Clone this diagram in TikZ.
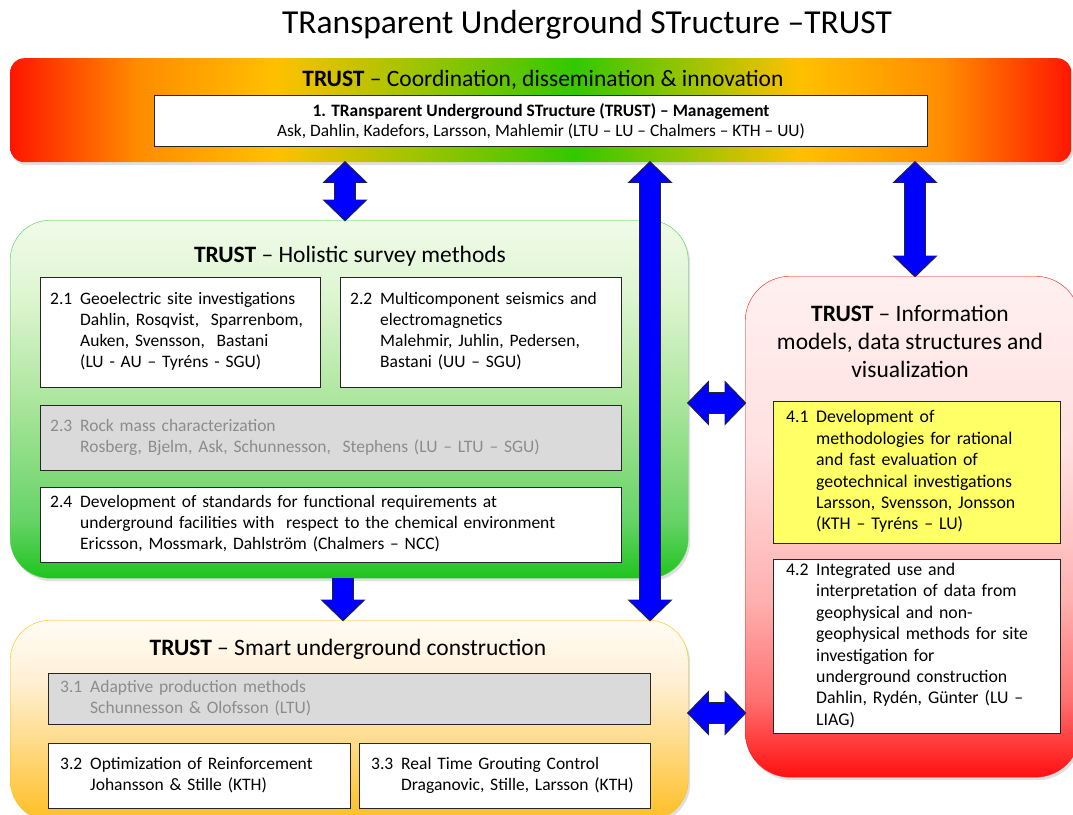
\documentclass[tikz,border=0pt]{standalone}
\usepackage{fontspec}
\setmainfont{Carlito}
\usetikzlibrary{arrows.meta,shadows}

\definecolor{barred}{HTML}{FF1600}
\definecolor{barorange}{HTML}{FF8C00}
\definecolor{baryellow}{HTML}{FFC000}
\definecolor{bargreen}{HTML}{33C800}
\definecolor{sgreen0}{HTML}{F0FBEA}
\definecolor{sgreen1}{HTML}{DDF5D0}
\definecolor{sgreen2}{HTML}{ADE69E}
\definecolor{sgreen3}{HTML}{66D366}
\definecolor{sgreen4}{HTML}{1EC41E}
\definecolor{sgreenline}{HTML}{4CD04C}
\definecolor{sorange0}{HTML}{FFFCF5}
\definecolor{sorange1}{HTML}{FFF0D5}
\definecolor{sorange2}{HTML}{FFDC8C}
\definecolor{sorange3}{HTML}{FFC230}
\definecolor{sred0}{HTML}{FFF0F0}
\definecolor{sred1}{HTML}{FFE0E0}
\definecolor{sred2}{HTML}{FFB0B0}
\definecolor{sred3}{HTML}{FF7070}
\definecolor{sred4}{HTML}{FF1010}
\definecolor{wpgrey}{HTML}{DADADA}
\definecolor{wpgreytext}{HTML}{8C8C8C}
\definecolor{wpyellow}{HTML}{FFFF66}

\pgfdeclarehorizontalshading{coordshade}{100bp}{color(0bp)=(barred); color(25bp)=(barred);
  color(31bp)=(barorange); color(37.5bp)=(baryellow); color(51.6bp)=(bargreen);
  color(62.2bp)=(baryellow); color(69bp)=(barorange); color(75bp)=(barred); color(100bp)=(barred)}
\pgfdeclareverticalshading{surveyshade}{100bp}{color(0bp)=(sgreen4); color(25bp)=(sgreen4);
  color(33bp)=(sgreen3); color(50bp)=(sgreen2); color(64bp)=(sgreen1); color(75bp)=(sgreen0); color(100bp)=(sgreen0)}
\pgfdeclareverticalshading{smartshade}{100bp}{color(0bp)=(sorange3); color(27.5bp)=(sorange3);
  color(45bp)=(sorange2); color(60bp)=(sorange1); color(75bp)=(sorange0); color(100bp)=(sorange0)}
\pgfdeclareverticalshading{infoshade}{100bp}{color(0bp)=(sred4); color(25bp)=(sred4);
  color(32.7bp)=(sred3); color(42.7bp)=(sred2); color(57.6bp)=(sred1); color(75bp)=(sred0); color(100bp)=(sred0)}

% number in front of a work package, the lines of the text stand beside it
\newcommand{\wptext}[2]{\makebox[30pt][l]{#1}\begin{tabular}[t]{@{}l@{}}#2\end{tabular}}

\tikzset{
  panel/.style={anchor=north west, inner sep=0pt, rounded corners=40pt, shade,
    drop shadow={shadow xshift=2pt, shadow yshift=-3pt, opacity=0.25}},
  paneltitle/.style={align=center, font=\fontsize{23.5}{28}\selectfont},
  wpbox/.style={draw=black!85, fill=white, anchor=north west, align=left,
    inner xsep=10pt, inner ysep=0pt, font=\fontsize{17.5}{21}\selectfont},
  wpgreybox/.style={wpbox, fill=wpgrey, text=wpgreytext},
  dblarrow/.style={draw=blue, line width=20pt,
    {Triangle[width=40pt,length=20pt]}-{Triangle[width=40pt,length=20pt]},
    preaction={draw=black!85, line width=22pt,
      {Triangle[width=44pt,length=22pt]}-{Triangle[width=44pt,length=22pt]},
      shorten <=-1.5pt, shorten >=-1.5pt}},
  sglarrow/.style={draw=blue, line width=20pt, -{Triangle[width=40pt,length=20pt]},
    preaction={draw=black!85, line width=22pt, -{Triangle[width=44pt,length=22pt]},
      shorten >=-1.5pt}},
}

\begin{document}
\begin{tikzpicture}[x=1pt, y=-1pt]
  \useasboundingbox[fill=white] (0,0) rectangle (1073,814);

  % Title
  \node[font=\fontsize{33.5}{40}\selectfont] (title) at (587,25) {TRansparent Underground STructure –TRUST};

  % Coordination bar
  \node[panel, shading=coordshade, rounded corners=14pt, minimum width=1061pt, minimum height=104pt] (coordbar) at (10,58) {};
  \node[font=\fontsize{23.5}{28}\selectfont] (coordtitle) at (543,80) {\textbf{TRUST} – Coordination, dissemination \& innovation};
  \node[draw=black!85, fill=white, align=center, minimum width=773pt, minimum height=51pt,
    font=\fontsize{17.4}{19.5}\selectfont] (mgmt) at (541,121)
    {\textbf{1. TRansparent Underground STructure (TRUST) – Management}\\
     Ask, Dahlin, Kadefors, Larsson, Mahlemir (LTU – LU – Chalmers – KTH – UU)};

  % Holistic survey methods
  \node[panel, shading=surveyshade, draw=sgreenline, minimum width=678pt, minimum height=358pt] (survey) at (10,220) {};
  \node[paneltitle] (surveytitle) at (350,256) {\textbf{TRUST} – Holistic survey methods};
  \node[wpbox, text width=260pt, minimum height=110pt] (wp21) at (40,277)
    {\wptext{2.1}{Geoelectric site investigations\\ Dahlin, Rosqvist,\ \ Sparrenbom,\\ Auken, Svensson,\ \ Bastani\\ (LU - AU – Tyréns - SGU)}};
  \node[wpbox, text width=261pt, minimum height=110pt] (wp22) at (340,277)
    {\wptext{2.2}{Multicomponent seismics and\\ electromagnetics\\ Malehmir, Juhlin, Pedersen,\\ Bastani (UU – SGU)}};
  \node[wpgreybox, text width=561pt, minimum height=65pt] (wp23) at (40,405)
    {\wptext{2.3}{Rock mass characterization\\ Rosberg, Bjelm, Ask, Schunnesson,\ \ Stephens (LU – LTU – SGU)}};
  \node[wpbox, text width=561pt, minimum height=75pt] (wp24) at (40,487)
    {\wptext{2.4}{Development of standards for functional requirements at\\ underground facilities with\ \ respect to the chemical environment\\ Ericsson, Mossmark, Dahlström (Chalmers – NCC)}};

  % Smart underground construction
  \node[panel, shading=smartshade, draw=baryellow, minimum width=678pt, minimum height=200pt] (smart) at (10,620) {};
  \node[paneltitle] (smarttitle) at (348,649) {\textbf{TRUST} – Smart underground construction};
  \node[wpgreybox, inner xsep=12pt, text width=578pt, minimum height=51pt] (wp31) at (48,673)
    {\wptext{3.1}{Adaptive production methods\\ Schunnesson \& Olofsson (LTU)}};
  \node[wpbox, inner xsep=12pt, text width=278pt, minimum height=65pt] (wp32) at (48,743)
    {\wptext{3.2}{Optimization of Reinforcement\\ Johansson \& Stille (KTH)}};
  \node[wpbox, inner xsep=12pt, text width=267pt, minimum height=65pt] (wp33) at (359,743)
    {\wptext{3.3}{Real Time Grouting Control\\ Draganovic, Stille, Larsson (KTH)}};

  % Information models
  \node[panel, shading=infoshade, draw=red!90, rounded corners=45pt, minimum width=335pt, minimum height=501pt] (info) at (745,276) {};
  \node[align=center, font=\fontsize{23.5}{28}\selectfont] (infotitle) at (910,341)
    {\textbf{TRUST} – Information\\ models, data structures and\\ visualization};
  \node[wpbox, fill=wpyellow, font=\fontsize{17.8}{21.4}\selectfont, inner xsep=13pt, text width=261pt, minimum height=142pt] (wp41) at (773,401)
    {\wptext{4.1}{Development of\\ methodologies for rational\\ and fast evaluation of\\ geotechnical investigations\\ Larsson, Svensson, Jonsson\\ (KTH – Tyréns – LU)}};
  \node[wpbox, font=\fontsize{17.8}{21.4}\selectfont, inner xsep=13pt, text width=261pt, minimum height=174pt] (wp42) at (773,559)
    {\wptext{4.2}{Integrated use and\\ interpretation of data from\\ geophysical and non-\\ geophysical methods for site\\ investigation for\\ underground construction\\ Dahlin, Rydén,\ Günter (LU –\\ LIAG)}};

  % Arrows between the parts
  \coordinate (colA) at (345,0);
  \coordinate (colB) at (650,0);
  \coordinate (colC) at (915,0);
  \coordinate (colD) at (343,0);
  \draw[dblarrow] (coordbar.south -| colA) -- (survey.north -| colA);
  \draw[dblarrow] (coordbar.south -| colB) -- (smart.north -| colB);
  \draw[dblarrow] (coordbar.south -| colC) -- (info.north -| colC);
  \draw[sglarrow] (survey.south -| colD) -- (smart.north -| colD);
  \draw[dblarrow] (survey.east |- 0,403) -- (info.west |- 0,403);
  \draw[dblarrow] (smart.east |- 0,713) -- (info.west |- 0,713);
\end{tikzpicture}
\end{document}
